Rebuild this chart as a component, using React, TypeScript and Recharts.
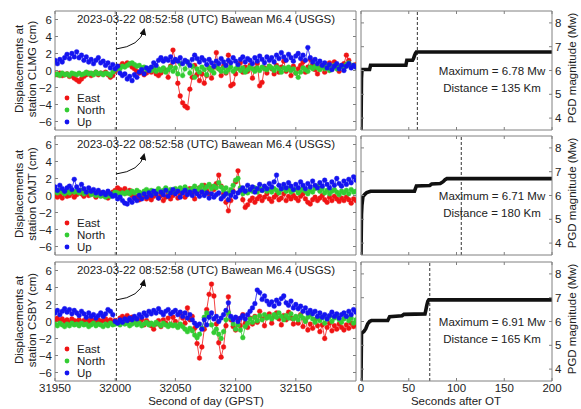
import { LineChart, Line, XAxis, YAxis, ReferenceLine } from 'recharts';

// time grid of the GNSS displacement series (GPST seconds of day)
const T0 = 31950;
const DT = 2;
const X_TICKS = [31950, 32000, 32050, 32100, 32150];
const Y_TICKS = [-6, -4, -2, 0, 2, 4, 6];
const PGD_X_TICKS = [0, 50, 100, 150, 200];
const PGD_Y_TICKS = [4, 5, 6, 7, 8];
const EVENT_T = 32001;

const clmgEast = [
  -0.4, -0.5, -0.3, -0.6, -0.5, -0.4, -0.7, -0.6, -0.9, -1.1,
  -1.3, -1.0, -0.7, -0.5, -0.3, -0.6, -0.4, -0.2, -0.5, -0.3,
  -0.4, -0.2, -0.5, -0.8, -0.6, -0.1, 0.3, 0.5, 0.8, 0.6,
  0.9, 0.7, 0.4, 0.2, -0.1, -0.3, -0.2, -0.5, -0.3, 0.0,
  -0.2, 0.1, -0.4, -0.6, -0.3, 0.2, 0.0, -0.8, 0.5, 2.4,
  1.2, -1.5, -3.0, -3.8, -4.2, -4.4, -2.2, -0.8, 0.6, -0.5,
  -1.2, -0.4, -1.5, -0.6, 0.3, -0.9, 0.4, 2.1, 0.2, -0.6,
  0.5, -0.3, 1.8, -1.8, -1.6, -0.4, 0.3, 0.9, -0.2, 0.4,
  -0.1, 0.6, -0.9, 0.2, 0.8, -1.8, -1.4, 0.3, -0.3, 0.5,
  0.2, -0.4, 0.6, -0.2, 0.4, 1.1, -0.1, 0.3, -0.6, 0.5,
  -0.3, 0.2, 0.6, 1.0, -0.2, 0.4, 1.3, 0.7, 0.1, -0.4,
  0.3, 0.6, -0.2, 0.5, 0.9, 0.2, 1.0, 0.4, -0.1, 0.6,
  0.8, 1.8, 1.2, 0.4, 0.6, 0.7,
];
const clmgNorth = [
  -0.5, -0.4, -0.6, -0.3, -0.5, -0.4, -0.6, -0.3, -0.4, -0.5,
  -0.3, -0.5, -0.4, -0.2, -0.4, -0.3, -0.5, -0.2, -0.4, -0.3,
  -0.5, -0.3, -0.4, -0.6, -0.2, 0.1, 0.3, 0.2, 0.5, 0.4,
  0.6, 0.8, 0.9, 0.7, 0.5, 0.6, 0.3, 0.4, 0.1, 0.2,
  0.0, 0.3, -0.1, 0.2, 0.0, 0.3, -0.2, 0.1, 0.4, -0.1,
  0.3, -0.4, 0.8, -0.6, 0.2, 1.0, -0.3, 0.5, -0.8, 0.2,
  -0.2, 0.4, 0.1, -0.5, 0.3, 0.0, -0.3, 0.5, 0.2, -0.1,
  0.3, -0.2, 0.1, 0.4, -0.1, 0.2, 0.5, 0.0, 0.3, -0.2,
  0.1, 0.4, 0.2, -0.1, 0.3, 0.0, 0.4, 0.2, 0.1, 0.5,
  0.3, 0.0, 0.4, 0.2, -0.2, 0.3, 0.1, 0.4, 0.0, 0.2,
  -0.3, -0.8, -0.2, 0.3, 0.1, -0.1, 0.4, 0.2, 0.5, 0.3,
  0.1, 0.4, 0.2, 0.5, 0.0, 0.3, 0.6, 0.2, 0.4, 0.5,
  0.3, 0.7, 0.9, 0.5, 0.6, 0.4,
];
const clmgUp = [
  1.2, 0.8, 1.3, 1.0, 1.5, 1.9, 1.4, 2.0, 1.6, 2.2,
  1.5, 1.8, 1.2, 1.6, 1.0, 1.3, 0.8, 1.2, 1.5, 0.9,
  1.1, 0.6, 0.9, 0.3, 0.7, 0.2, 0.5, -0.3, -0.6, -0.4,
  -1.0, -0.7, -1.2, -0.5, -0.8, -0.2, 0.1, -0.4, 0.3, 0.0,
  0.4, 0.9, 0.6, 1.2, 1.5, 1.1, 1.4, 1.2, 1.6, 1.0,
  1.3, 1.1, 1.5, 0.8, 1.2, 1.0, 0.6, 1.3, 1.8, 1.4,
  1.0, 1.5, 1.2, 0.7, 1.3, 0.9, 0.5, 1.1, 0.8, 1.4,
  1.0, 0.6, 1.2, 0.9, 1.5, 1.1, 0.7, 1.3, 1.6, 1.0,
  1.4, 1.2, 0.8, 1.5, 1.1, 1.7, 1.3, 0.9, 1.6, 1.2,
  1.5, 1.0, 1.8, 1.4, 2.1, 1.6, 1.2, 1.9, 1.5, 1.1,
  1.7, 2.0, 1.4, 1.8, 1.2, 2.7, 1.5, 1.0, 1.3, 0.8,
  1.1, 0.6, 0.9, 0.3, 0.7, 0.1, 0.5, 0.8, 0.2, 0.6,
  0.0, 0.5, 0.8, 0.3, 0.6, 0.4,
];

const cmjtEast = [
  0.1, -0.2, 0.0, -0.3, 0.2, -0.1, 0.0, 0.3, -0.2, 0.1,
  0.4, 0.2, -0.1, 0.3, 0.0, 0.5, 0.2, -0.2, 0.1, 0.3,
  0.0, 0.2, -0.3, 0.1, 0.4, 0.6, 0.9, 0.7, 0.5, 0.8,
  0.3, 0.6, 0.0, -0.3, -0.1, -0.5, -0.2, 0.1, -0.4, -0.2,
  -0.5, -0.1, 0.2, -0.3, 0.0, -0.6, -0.2, 0.3, -0.4, 0.0,
  0.4, -0.3, 0.1, 0.6, -0.2, 0.3, 0.8, 0.2, -0.4, 0.5,
  0.9, 0.4, 1.2, 0.6, 0.2, 1.0, 0.7, 1.4, 2.4, 1.1,
  0.2, -0.8, -1.8, -0.6, 0.5, 1.6, 2.9, 0.8, -0.5, -1.4,
  -1.1, -0.6, -0.3, -0.8, -0.4, -0.1, -0.6, -0.2, 0.2, -0.4,
  -0.7, -0.2, 0.1, -0.5, -0.3, 0.2, -0.6, -0.1, -0.4, 0.0,
  -0.3, -0.6, -0.1, 0.2, -0.4, -0.8, -1.0, -0.5, -0.2, -0.6,
  -0.3, 0.0, -0.5, -0.8, -0.2, -0.6, -0.1, -0.4, -0.7, -0.3,
  -0.6, -0.2, -0.5, -0.9, -0.4, -0.6,
];
const cmjtNorth = [
  0.5, 0.3, 0.6, 0.4, 0.2, 0.5, 0.3, 0.6, 0.4, 0.5,
  0.3, 0.6, 0.2, 0.4, 0.5, 0.1, 0.3, 0.0, 0.2, -0.1,
  0.1, -0.2, 0.0, -0.1, 0.2, 0.4, 0.3, 0.1, 0.3, 0.2,
  0.4, 0.2, 0.5, 0.3, 0.6, 0.4, 0.2, 0.5, 0.7, 0.4,
  0.6, 0.3, 0.5, 0.8, 0.4, 0.6, 0.9, 0.5, 0.7, 0.4,
  0.8, 0.5, 0.9, 0.6, 1.0, 0.7, 0.4, 0.8, 1.1, 0.6,
  0.9, 1.2, 0.7, 1.0, 1.3, 0.8, 1.1, 0.9, 1.5, 1.0,
  0.6, 0.9, 0.3, 0.7, 1.2, 1.8, 2.0, 0.9, 0.2, 0.5,
  0.3, 0.7, 0.5, 0.9, 0.4, 0.8, 0.6, 1.0, 0.5, 0.7,
  0.4, 0.8, 0.6, 0.3, 0.7, 0.9, 0.5, 0.8, 0.4, 0.6,
  0.7, 0.3, 0.6, 0.9, 0.5, 0.2, 0.6, 0.4, 0.8, 1.1,
  0.5, 0.8, 0.3, 0.6, 0.2, 0.5, 0.7, 0.4, 0.1, 0.5,
  0.3, 0.6, 0.2, 0.7, 0.4, 0.5,
];
const cmjtUp = [
  1.0, 0.6, 1.2, 0.8, 0.5, 0.9, 1.1, 0.7, 1.9, 1.0,
  0.6, 1.3, 0.8, 0.4, 0.9, 0.5, 0.7, 0.3, 0.6, 0.2,
  0.4, 0.1, 0.5, 0.2, -0.1, 0.0, -0.4, -0.2, -0.6, -0.9,
  -1.0, -0.5, -0.8, -0.3, -0.6, 0.0, -0.4, 0.2, -0.2, 0.3,
  0.0, 0.5, 0.2, -0.3, 0.4, 0.1, 0.6, -0.1, 0.3, 0.7,
  0.2, 0.5, -0.2, 0.3, 0.6, 0.1, 0.4, 0.0, 0.5, 0.2,
  -0.1, 0.4, 0.0, 0.3, -0.3, 0.2, -0.2, 0.1, 0.3, -0.4,
  -0.1, 0.2, -0.5, 0.0, 0.4, -0.2, 0.3, 0.6, 0.9, 0.5,
  1.2, 0.7, 1.0, 0.4, 0.8, 1.3, 0.6, 1.1, 0.8, 1.4,
  1.0, 1.6, 2.4, 1.2, 0.8, 1.3, 0.9, 1.5, 1.1, 0.7,
  1.3, 0.9, 1.6, 1.2, 0.8, 1.4, 1.0, 1.7, 1.2, 0.9,
  1.5, 1.1, 1.8, 1.3, 0.9, 1.6, 1.2, 2.0, 1.4, 1.1,
  1.7, 1.3, 1.9, 1.5, 2.2, 1.8,
];

const csbyEast = [
  0.2, 0.4, 0.1, 0.3, 0.0, 0.2, -0.1, 0.3, 0.1, 0.0,
  0.2, -0.1, 0.1, 0.3, 0.0, 0.2, 0.1, -0.2, 0.2, 0.0,
  0.1, 0.3, 0.0, 0.2, -0.1, 0.1, -0.2, 0.4, 0.6, 0.3,
  0.7, 0.2, 0.5, 0.0, 0.3, -0.1, 0.2, -0.4, 0.1, -0.2,
  -0.5, -0.9, -0.3, 0.1, -0.6, 0.2, -0.2, 0.4, -0.4, 0.5,
  0.0, -0.6, 1.0, 0.4, -0.2, 1.6, 0.2, 0.6, -0.8, -2.6,
  -4.3, -3.0, -0.9, 1.4, 3.2, 4.4, 3.0, -0.3, -2.5, -4.2,
  -3.0, -0.5, 2.9, 0.2, -0.6, -1.0, 0.3, -0.5, 0.8, -0.2,
  -0.7, 0.4, -0.3, 0.6, -0.1, 1.2, 0.3, -0.5, 0.5, 0.9,
  -0.2, 0.6, 1.0, 0.3, -0.4, 0.7, 0.2, 1.1, 0.4, -0.3,
  0.5, -0.2, 0.8, -0.6, 0.1, -1.0, -0.3, -0.8, 0.2, -0.5,
  -1.2, -0.4, -2.0, -0.7, -0.2, -1.1, -0.5, -0.9, -0.3, -0.7,
  -1.0, -0.4, -0.8, -0.2, -0.6, -0.3,
];
const csbyNorth = [
  -0.3, -0.5, -0.2, -0.4, -0.6, -0.3, -0.5, -0.2, -0.4, -0.3,
  -0.5, -0.2, -0.4, -0.3, -0.6, -0.4, -0.2, -0.5, -0.3, -0.4,
  -0.6, -0.3, -0.5, -0.2, -0.4, -0.3, -0.2, -0.4, -0.1, -0.3,
  -0.2, -0.5, -0.3, -0.1, -0.4, -0.2, -0.5, -0.3, -0.1, -0.4,
  -0.2, -0.4, -0.1, -0.3, -0.5, -0.2, -0.4, -0.6, -0.3, -0.5,
  -0.4, -0.7, -0.3, -0.6, -0.9, -1.2, -0.8, -1.1, -1.6, -1.9,
  -1.5, -0.8, 0.5, 1.0, 0.6, -0.4, -1.3, -0.9, -1.5, -2.0,
  -1.2, 0.2, 1.0, 0.4, -0.3, -0.9, -0.4, -1.0, -1.9, -0.6,
  -0.2, 0.3, -0.1, 0.5, 0.1, 0.7, 0.2, 0.8, 0.4, 0.6,
  0.3, 0.8, 0.5, 1.0, 0.6, 0.2, 0.7, 0.4, 0.9, 0.3,
  0.6, 0.2, 0.7, 0.4, 0.0, 0.5, 0.8, 0.3, -0.1, 0.4,
  0.1, 0.5, -0.2, 0.3, 0.6, 0.0, 0.4, 0.7, 0.2, -0.1,
  0.3, 0.6, 0.1, 0.4, -0.2, 0.2,
];
const csbyUp = [
  1.0, 1.3, 0.8, 1.2, 1.5, 1.1, 1.4, 0.9, 1.3, 1.0,
  0.7, 1.2, 0.9, 0.5, 1.0, 0.6, 0.8, 0.4, 0.7, 1.0,
  0.6, 0.9, 1.4, 1.2, 0.8, 0.0, -0.2, 0.2, -0.1, 0.3,
  0.1, 0.4, 0.2, 0.6, 0.3, 0.8, 0.5, 1.0, 0.7, 1.2,
  0.9, 1.3, 1.0, 1.5, 1.1, 0.8, 1.2, 1.4, 0.9, 1.1,
  1.3, 0.8, 1.1, 0.6, 1.0, 0.4, 0.8, 0.2, -0.2, -0.5,
  -0.3, -0.9, 0.2, -0.4, 0.5, 1.0, 0.3, 0.6, 0.0, 0.4,
  0.8, 1.3, 2.2, 0.6, 0.2, 0.5, 0.0, 0.4, 0.7, 0.3,
  0.8, 1.2, 1.6, 2.1, 3.7, 3.4, 2.6, 3.0, 2.4, 2.0,
  2.3, 1.8, 2.5, 2.1, 2.7, 3.0, 2.2, 1.9, 2.4, 1.6,
  2.0, 1.5, 1.8, 1.2, 1.6, 1.0, 1.3, 0.9, 1.2, 0.6,
  1.0, 0.5, 0.8, 0.3, 0.7, 1.1, 0.6, 0.9, 0.4, 0.8,
  1.0, 0.6, 1.2, 0.8, 1.4, 1.1,
];

// PGD magnitude vs. seconds after origin time (breakpoints of the step curve)
const clmgPgdT = [0, 0.5, 1, 9, 10, 47, 48, 54, 55, 56, 57, 58, 200];
const clmgPgdM = [3.5, 5.67, 6.04, 6.04, 6.22, 6.22, 6.43, 6.43, 6.5, 6.62, 6.72, 6.78, 6.78];
const cmjtPgdT = [0, 0.5, 1, 2, 4, 6, 10, 56, 58, 72, 74, 83, 86, 88, 90, 200];
const cmjtPgdM = [3.5, 5.2, 5.6, 5.95, 6.05, 6.12, 6.18, 6.18, 6.4, 6.42, 6.48, 6.5, 6.58, 6.66, 6.71, 6.71];
const csbyPgdT = [0, 0.5, 3, 5, 7, 9, 11, 28, 30, 43, 45, 67, 68, 69, 70, 71, 200];
const csbyPgdM = [3.5, 5.5, 5.58, 5.7, 5.9, 6.0, 6.04, 6.04, 6.2, 6.24, 6.3, 6.32, 6.5, 6.7, 6.85, 6.91, 6.91];

const stations = [
  { code: 'CLMG', east: clmgEast, north: clmgNorth, up: clmgUp, pgdT: clmgPgdT, pgdM: clmgPgdM, tMax: 59, maxMw: '6.78', dist: '135' },
  { code: 'CMJT', east: cmjtEast, north: cmjtNorth, up: cmjtUp, pgdT: cmjtPgdT, pgdM: cmjtPgdM, tMax: 105, maxMw: '6.71', dist: '180' },
  { code: 'CSBY', east: csbyEast, north: csbyNorth, up: csbyUp, pgdT: csbyPgdT, pgdM: csbyPgdM, tMax: 72, maxMw: '6.91', dist: '165' },
];

const PANEL_TOPS = [11, 136, 262];
const PANEL_H = 119;
const FONT = '"Liberation Sans", Arial, sans-serif';
const FS = 11.5;
const FRAME = '#808080';
const TXT = '#222';
const RED = '#f01414';
const GREEN = '#33cc33';
const BLUE = '#1414f0';

const blank = () => '';
const fmtY = (v: number) => (v < 0 ? `\u2212${-v}` : `${v}`);
const tickStyle = { fill: TXT, fontSize: FS, fontFamily: FONT };

function DispPanel({ st, top, last }: { st: (typeof stations)[number]; top: number; last: boolean }) {
  const rows = st.east.map((e, i) => ({ t: T0 + i * DT, e, n: st.north[i], u: st.up[i] }));
  const bottomH = last ? 30 : 1;
  const series = [
    { key: 'e', color: RED },
    { key: 'n', color: GREEN },
    { key: 'u', color: BLUE },
  ];
  return (
    <div style={{ position: 'absolute', left: 0, top: top - 10 }}>
      <LineChart width={357} height={10 + PANEL_H + bottomH} data={rows} margin={{ top: 9, right: 0, bottom: 0, left: 0 }}>
        <XAxis xAxisId="b" dataKey="t" type="number" domain={[31950, 32200]} ticks={X_TICKS} allowDataOverflow
          height={bottomH} tickSize={-3} tickMargin={last ? 6 : 0} interval={0}
          tickFormatter={last ? undefined : blank} stroke={FRAME} tick={tickStyle} />
        <XAxis xAxisId="t" orientation="top" dataKey="t" type="number" domain={[31950, 32200]} ticks={X_TICKS} allowDataOverflow
          height={1} tickSize={-3} interval={0} tickFormatter={blank} stroke={FRAME} />
        <YAxis yAxisId="l" type="number" domain={[-7, 7]} ticks={Y_TICKS} allowDataOverflow width={55}
          tickSize={-3} tickMargin={6} interval={0} tickFormatter={fmtY} stroke={FRAME} tick={tickStyle} />
        <YAxis yAxisId="r" orientation="right" type="number" domain={[-7, 7]} ticks={Y_TICKS} allowDataOverflow width={1}
          tickSize={-3} interval={0} tickFormatter={blank} stroke={FRAME} />
        <ReferenceLine xAxisId="b" yAxisId="l" x={EVENT_T} stroke="#333" strokeDasharray="3 2" />
        {series.map((s) => (
          <Line key={s.key} xAxisId="b" yAxisId="l" dataKey={s.key} type="linear" stroke={s.color} strokeWidth={0.8}
            dot={{ r: 2.4, fill: s.color, stroke: s.color, strokeWidth: 0.4 }} isAnimationActive={false} />
        ))}
      </LineChart>
    </div>
  );
}

function PgdPanel({ st, top, last }: { st: (typeof stations)[number]; top: number; last: boolean }) {
  const rows = st.pgdT.map((t, i) => ({ t, m: st.pgdM[i] }));
  const bottomH = last ? 30 : 1;
  return (
    <div style={{ position: 'absolute', left: 345, top: top - 10 }}>
      <LineChart width={236} height={10 + PANEL_H + bottomH} data={rows} margin={{ top: 9, right: 0, bottom: 0, left: 15 }}>
        <XAxis xAxisId="b" dataKey="t" type="number" domain={[0, 200]} ticks={PGD_X_TICKS} allowDataOverflow
          height={bottomH} tickSize={-3} tickMargin={last ? 6 : 0} interval={0}
          tickFormatter={last ? undefined : blank} stroke={FRAME} tick={tickStyle} />
        <XAxis xAxisId="t" orientation="top" dataKey="t" type="number" domain={[0, 200]} ticks={PGD_X_TICKS} allowDataOverflow
          height={1} tickSize={-3} interval={0} tickFormatter={blank} stroke={FRAME} />
        <YAxis yAxisId="l" type="number" domain={[3.5, 8.5]} ticks={PGD_Y_TICKS} allowDataOverflow width={1}
          tickSize={-3} interval={0} tickFormatter={blank} stroke={FRAME} />
        <YAxis yAxisId="r" orientation="right" type="number" domain={[3.5, 8.5]} ticks={PGD_Y_TICKS} allowDataOverflow width={29}
          tickSize={-3} tickMargin={6} interval={0} stroke={FRAME} tick={tickStyle} />
        <ReferenceLine xAxisId="b" yAxisId="r" x={st.tMax} stroke="#333" strokeDasharray="3 2" />
        <Line xAxisId="b" yAxisId="r" dataKey="m" type="linear" stroke="#111" strokeWidth={3.6} dot={false} isAnimationActive={false} />
      </LineChart>
    </div>
  );
}

function Overlay() {
  const legend = [
    { label: 'East', color: RED },
    { label: 'North', color: GREEN },
    { label: 'Up', color: BLUE },
  ];
  return (
    <svg width={581} height={409} style={{ position: 'absolute', left: 0, top: 0, pointerEvents: 'none' }}
      fontFamily={FONT} fontSize={FS} fill={TXT}>
      <defs>
        <marker id="ah" markerWidth="7" markerHeight="7" refX="5" refY="3.5" orient="auto" markerUnits="userSpaceOnUse">
          <path d="M0,0 L7,3.5 L0,7 z" fill="#111" />
        </marker>
      </defs>
      {stations.map((st, k) => {
        const top = PANEL_TOPS[k];
        const cy = top + 58;
        return (
          <g key={st.code}>
            <text transform={`translate(19,${cy}) rotate(-90)`} textAnchor="middle" dominantBaseline="central">Displacements at</text>
            <text transform={`translate(32,${cy}) rotate(-90)`} textAnchor="middle" dominantBaseline="central">{`station ${st.code} (cm)`}</text>
            <text transform={`translate(572,${top + 57}) rotate(-90)`} textAnchor="middle" dominantBaseline="central">PGD magnitude (Mw)</text>
            <text x={206} y={top + 11.5} textAnchor="middle">2023-03-22 08:52:58 (UTC) Bawean M6.4 (USGS)</text>
            <path d={`M116,${top + 38} Q140,${top + 35} 144,${top + 19}`} fill="none" stroke="#111" strokeWidth={1} markerEnd="url(#ah)" />
            <text x={492} y={top + 64} textAnchor="middle">{`Maximum = ${st.maxMw} Mw`}</text>
            <text x={492} y={top + 81} textAnchor="middle">{`Distance = ${st.dist} Km`}</text>
            {legend.map((l, j) => (
              <g key={l.label}>
                <circle cx={67} cy={top + 87 + j * 12} r={2.4} fill={l.color} />
                <text x={77} y={top + 87 + j * 12} dominantBaseline="central">{l.label}</text>
              </g>
            ))}
          </g>
        );
      })}
      <text x={206} y={405} textAnchor="middle">Second of day (GPST)</text>
      <text x={456} y={405} textAnchor="middle">Seconds after OT</text>
    </svg>
  );
}

export default function App() {
  return (
    <div style={{ position: 'absolute', left: 0, top: 0, width: 581, height: 409, background: '#fff', overflow: 'hidden' }}>
      {stations.map((st, k) => (
        <DispPanel key={`d${st.code}`} st={st} top={PANEL_TOPS[k]} last={k === 2} />
      ))}
      {stations.map((st, k) => (
        <PgdPanel key={`p${st.code}`} st={st} top={PANEL_TOPS[k]} last={k === 2} />
      ))}
      <Overlay />
    </div>
  );
}
